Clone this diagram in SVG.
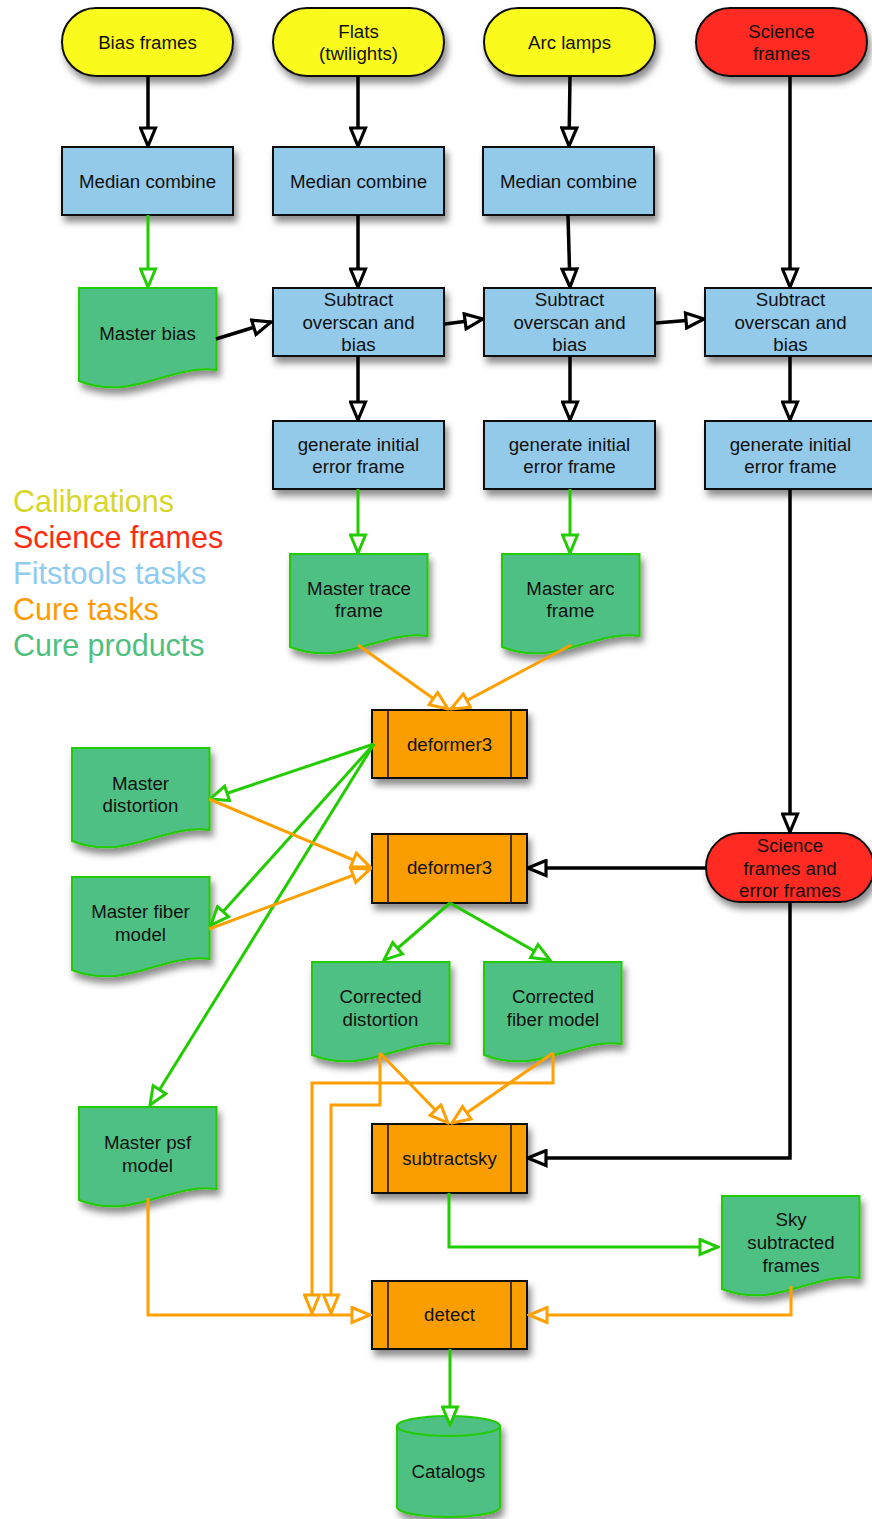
<svg xmlns="http://www.w3.org/2000/svg" xmlns:xlink="http://www.w3.org/1999/xlink" width="872" height="1519" viewBox="0 0 872 1519">
<style>
text{font-family:"Liberation Sans",Arial,sans-serif;font-size:18.7px;fill:#111;text-anchor:middle}
.legend{font-size:30.5px;text-anchor:start}
.term-y{fill:#fafa1e;stroke:#111;stroke-width:2}
.term-r{fill:#ff2c22;stroke:#111;stroke-width:2}
.box{fill:#93c9e9;stroke:#111;stroke-width:2}
.task{fill:#fa9e00;stroke:#111;stroke-width:2}
.doc{fill:#50c084;stroke:#22cc00;stroke-width:2}
.k{fill:none;stroke:#000;stroke-width:3.5;marker-end:url(#ak)}
.g{fill:none;stroke:#22cc00;stroke-width:3;marker-end:url(#ag)}
.o{fill:none;stroke:#ffa000;stroke-width:3;marker-end:url(#ao)}
.sh{filter:url(#shadow)}
</style>
<defs>
<filter id="shadow" x="-20%" y="-20%" width="150%" height="160%">
<feDropShadow dx="3" dy="6" stdDeviation="3.5" flood-color="#000" flood-opacity="0.45"/>
</filter>
<path id="docshape" d="M0,0 H137.5 V82 C89,76 55,114 0,93 Z"/>
<marker id="ak" viewBox="0 0 22 19" refX="20" refY="9.5" markerWidth="22" markerHeight="19" markerUnits="userSpaceOnUse" orient="auto">
<path d="M2,2 L20,9.5 L2,17 Z" fill="#fff" stroke="#000" stroke-width="3.2"/>
</marker>
<marker id="ag" viewBox="0 0 22 19" refX="20" refY="9.5" markerWidth="22" markerHeight="19" markerUnits="userSpaceOnUse" orient="auto">
<path d="M2,2 L20,9.5 L2,17 Z" fill="#fff" stroke="#22cc00" stroke-width="3"/>
</marker>
<marker id="ao" viewBox="0 0 22 19" refX="20" refY="9.5" markerWidth="22" markerHeight="19" markerUnits="userSpaceOnUse" orient="auto">
<path d="M2,2 L20,9.5 L2,17 Z" fill="#fff" stroke="#ffa000" stroke-width="3"/>
</marker>
</defs>
<rect width="872" height="1519" fill="#fff"/>

<g id="legend">
<text class="legend" x="13" y="512" style="fill:#d6d62a">Calibrations</text>
<text class="legend" x="13" y="548" style="fill:#ff2a10">Science frames</text>
<text class="legend" x="13" y="584" style="fill:#8ecbee">Fitstools tasks</text>
<text class="legend" x="13" y="620" style="fill:#ff9a00">Cure tasks</text>
<text class="legend" x="13" y="656" style="fill:#4fbf80">Cure products</text>
</g>

<g id="bias-frames"><rect class="term-y sh" x="62" y="8" width="171" height="68" rx="34"/><text x="147.5" y="48.5">Bias frames</text></g>
<g id="flats"><rect class="term-y sh" x="273" y="8" width="171" height="68" rx="34"/><text x="358.5" y="37.5">Flats</text><text x="358.5" y="60">(twilights)</text></g>
<g id="arc-lamps"><rect class="term-y sh" x="484" y="8" width="171" height="68" rx="34"/><text x="569.5" y="48.5">Arc lamps</text></g>
<g id="science-frames"><rect class="term-r sh" x="696" y="8" width="171" height="68" rx="34"/><text x="781.5" y="38">Science</text><text x="781.5" y="60">frames</text></g>

<g id="median-bias"><rect class="box sh" x="62" y="147" width="171" height="68"/><text x="147.5" y="188">Median combine</text></g>
<g id="median-flats"><rect class="box sh" x="273" y="147" width="171" height="68"/><text x="358.5" y="188">Median combine</text></g>
<g id="median-arc"><rect class="box sh" x="483" y="147" width="171" height="68"/><text x="568.5" y="188">Median combine</text></g>

<g id="master-bias"><use href="#docshape" class="doc sh" x="79" y="288"/><text x="147.5" y="340">Master bias</text></g>

<g id="subtract-1"><rect class="box sh" x="273" y="288" width="171" height="68"/><text x="358.5" y="306">Subtract</text><text x="358.5" y="328.5">overscan and</text><text x="358.5" y="351">bias</text></g>
<g id="subtract-2"><rect class="box sh" x="484" y="288" width="171" height="68"/><text x="569.5" y="306">Subtract</text><text x="569.5" y="328.5">overscan and</text><text x="569.5" y="351">bias</text></g>
<g id="subtract-3"><rect class="box sh" x="705" y="288" width="171" height="68"/><text x="790.5" y="306">Subtract</text><text x="790.5" y="328.5">overscan and</text><text x="790.5" y="351">bias</text></g>

<g id="generate-1"><rect class="box sh" x="273" y="421" width="171" height="68"/><text x="358.5" y="451">generate initial</text><text x="358.5" y="473">error frame</text></g>
<g id="generate-2"><rect class="box sh" x="484" y="421" width="171" height="68"/><text x="569.5" y="451">generate initial</text><text x="569.5" y="473">error frame</text></g>
<g id="generate-3"><rect class="box sh" x="705" y="421" width="171" height="68"/><text x="790.5" y="451">generate initial</text><text x="790.5" y="473">error frame</text></g>

<g id="master-trace"><use href="#docshape" class="doc sh" x="290" y="554"/><text x="359" y="595">Master trace</text><text x="359" y="617">frame</text></g>
<g id="master-arc"><use href="#docshape" class="doc sh" x="502" y="554"/><text x="570.5" y="595">Master arc</text><text x="570.5" y="617">frame</text></g>

<g id="deformer3-1"><rect class="task sh" x="372" y="710" width="155" height="68"/><line x1="388" y1="710" x2="388" y2="778" stroke="#111" stroke-width="1.5"/><line x1="511" y1="710" x2="511" y2="778" stroke="#111" stroke-width="1.5"/><text x="449.5" y="751">deformer3</text></g>

<g id="master-distortion"><use href="#docshape" class="doc sh" x="72" y="748"/><text x="140.5" y="790">Master</text><text x="140.5" y="812">distortion</text></g>
<g id="master-fiber"><use href="#docshape" class="doc sh" x="72" y="877"/><text x="140.5" y="918">Master fiber</text><text x="140.5" y="941">model</text></g>

<g id="deformer3-2"><rect class="task sh" x="372" y="834" width="155" height="69"/><line x1="388" y1="834" x2="388" y2="903" stroke="#111" stroke-width="1.5"/><line x1="511" y1="834" x2="511" y2="903" stroke="#111" stroke-width="1.5"/><text x="449.5" y="874">deformer3</text></g>

<g id="science-error"><rect class="term-r sh" x="706" y="833" width="168" height="69" rx="34.5"/><text x="790" y="852">Science</text><text x="790" y="874.5">frames and</text><text x="790" y="897">error frames</text></g>

<g id="corrected-distortion"><use href="#docshape" class="doc sh" x="312" y="962"/><text x="380.5" y="1003">Corrected</text><text x="380.5" y="1026">distortion</text></g>
<g id="corrected-fiber"><use href="#docshape" class="doc sh" x="484" y="962"/><text x="553" y="1003">Corrected</text><text x="553" y="1026">fiber model</text></g>

<g id="subtractsky"><rect class="task sh" x="372" y="1124" width="155" height="69"/><line x1="388" y1="1124" x2="388" y2="1193" stroke="#111" stroke-width="1.5"/><line x1="511" y1="1124" x2="511" y2="1193" stroke="#111" stroke-width="1.5"/><text x="449.5" y="1165">subtractsky</text></g>

<g id="master-psf"><use href="#docshape" class="doc sh" x="79" y="1107"/><text x="147.5" y="1149">Master psf</text><text x="147.5" y="1172">model</text></g>

<g id="sky-subtracted"><use href="#docshape" class="doc sh" x="722" y="1196"/><text x="791" y="1226">Sky</text><text x="791" y="1249">subtracted</text><text x="791" y="1272">frames</text></g>

<g id="detect"><rect class="task sh" x="372" y="1281" width="155" height="68"/><line x1="388" y1="1281" x2="388" y2="1349" stroke="#111" stroke-width="1.5"/><line x1="511" y1="1281" x2="511" y2="1349" stroke="#111" stroke-width="1.5"/><text x="449.5" y="1321">detect</text></g>

<g id="catalogs"><path class="doc sh" d="M397,1426 A51.5,10 0 0 1 500,1426 V1507 A51.5,10 0 0 1 397,1507 Z"/><path d="M397,1426 A51.5,10 0 0 0 500,1426" fill="none" stroke="#22cc00" stroke-width="2"/><text x="448.5" y="1478">Catalogs</text></g>

<g id="connectors">
<path class="k" d="M148,76 V146"/>
<path class="k" d="M358,76 V146"/>
<path class="k" d="M570,76 L569,146"/>
<path class="g" d="M148,215 V287"/>
<path class="k" d="M358,215 V287"/>
<path class="k" d="M568,215 L570,287"/>
<path class="k" d="M790,76 V287"/>
<path class="k" d="M216,339 L271,322"/>
<path class="k" d="M445,324 L483,319"/>
<path class="k" d="M656,323 L704,319"/>
<path class="k" d="M358,356 V420"/>
<path class="k" d="M570,356 V420"/>
<path class="k" d="M790,356 V420"/>
<path class="g" d="M358,489 V553"/>
<path class="g" d="M570,489 V553"/>
<path class="k" d="M790,489 V832"/>
<path class="o" d="M358,645 L448,709"/>
<path class="o" d="M571,645 L451,709"/>
<path class="g" d="M374,744 L210,799"/>
<path class="g" d="M374,744 L211,925"/>
<path class="g" d="M374,744 L150,1105"/>
<path class="o" d="M209,799 L370,867"/>
<path class="o" d="M209,929 L370,869"/>
<path class="k" d="M706,868 H528"/>
<path class="g" d="M450,903 L384,960"/>
<path class="g" d="M450,903 L550,960"/>
<path class="o" d="M380,1053 L448,1123"/>
<path class="o" d="M553,1053 L452,1123"/>
<path class="o" d="M380,1053 V1105 H331 V1313"/>
<path class="o" d="M553,1053 V1083 H312 V1313"/>
<path class="k" d="M790,903 V1158 H528"/>
<path class="g" d="M449,1193 V1247 H718"/>
<path class="o" d="M148,1198 V1315 H370"/>
<path class="o" d="M791,1286 V1315 H529"/>
<path class="g" d="M450,1349 V1425"/>
</g>
</svg>
